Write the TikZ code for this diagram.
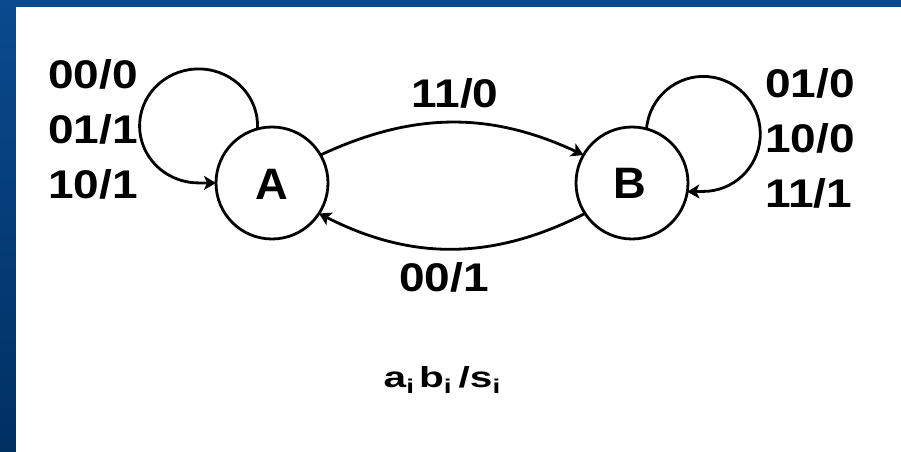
\documentclass[tikz,border=0pt]{standalone}
\usepackage{fontspec}
\setmainfont{Liberation Sans}
\newfontfamily\labfont[FakeStretch=1.15]{Liberation Sans}
\newfontfamily\statefont[FakeStretch=1.03]{Liberation Sans}
\newfontfamily\keyfont[FakeStretch=1.4]{Liberation Sans}
\usetikzlibrary{arrows.meta}
\definecolor{bluetop}{RGB}{10,74,142}
\definecolor{bluebot}{RGB}{0,48,98}
\newcommand{\subi}{\raisebox{-6pt}{\fontsize{20}{20}\selectfont i}}
\begin{document}
\begin{tikzpicture}[x=1pt,y=1pt,
  statenode/.style={circle,draw,line width=2.8pt,minimum size=112pt,inner sep=0pt,outer sep=0pt,
    font=\statefont\bfseries\fontsize{44}{44}\selectfont},
  lab/.style={inner sep=0pt,font=\labfont\bfseries\fontsize{40}{40}\selectfont},
  conn/.style={line width=2.8pt,-{Stealth[length=12pt,width=14pt,inset=3pt]}}]
\useasboundingbox (0,0) rectangle (901,451);
\shade[top color=bluetop,bottom color=bluebot] (0,0) rectangle (901,451);
\fill[white] (16,-3) rectangle (904,444);
% states
\node[statenode] (A) at (272,268) {};
\node[statenode] (B) at (632,268) {};
\node[inner sep=0pt,anchor=base,font=\statefont\bfseries\fontsize{44}{44}\selectfont] (lA) at (272,252) {A};
\node[inner sep=0pt,anchor=base,font=\statefont\bfseries\fontsize{44}{44}\selectfont] (lB) at (630,253) {B};
% loops
\draw[conn] (A.105) arc[start angle=-3,end angle=270,x radius=59,y radius=57] -- (A.west);
\draw[conn] (B.75) arc[start angle=175,end angle=-90,x radius=57,y radius=57.5] -- (B.-9);
% transitions
\draw[conn] (A.30) to[out=25,in=155] (B.150);
\draw[conn] (B.213) to[out=207,in=-27] (A.-33);
% labels
\node[lab,anchor=base west] (l1) at (48,363) {00/0};
\node[lab,anchor=base west] (l2) at (48,308) {01/1};
\node[lab,anchor=base west] (l3) at (48,253) {10/1};
\node[lab,anchor=base west] (r1) at (765,354) {01/0};
\node[lab,anchor=base west] (r2) at (765,299) {10/0};
\node[lab,anchor=base west] (r3) at (765,244) {11/1};
\node[lab,anchor=base] (t1) at (455,344) {11/0};
\node[lab,anchor=base] (t2) at (444,160) {00/1};
\node[inner sep=0pt,anchor=base,font=\keyfont\bfseries\fontsize{29}{29}\selectfont] (key) at (442,64)
  {a\subi\hspace{5pt}b\subi\hspace{7pt}/s\subi};
\end{tikzpicture}
\end{document}
